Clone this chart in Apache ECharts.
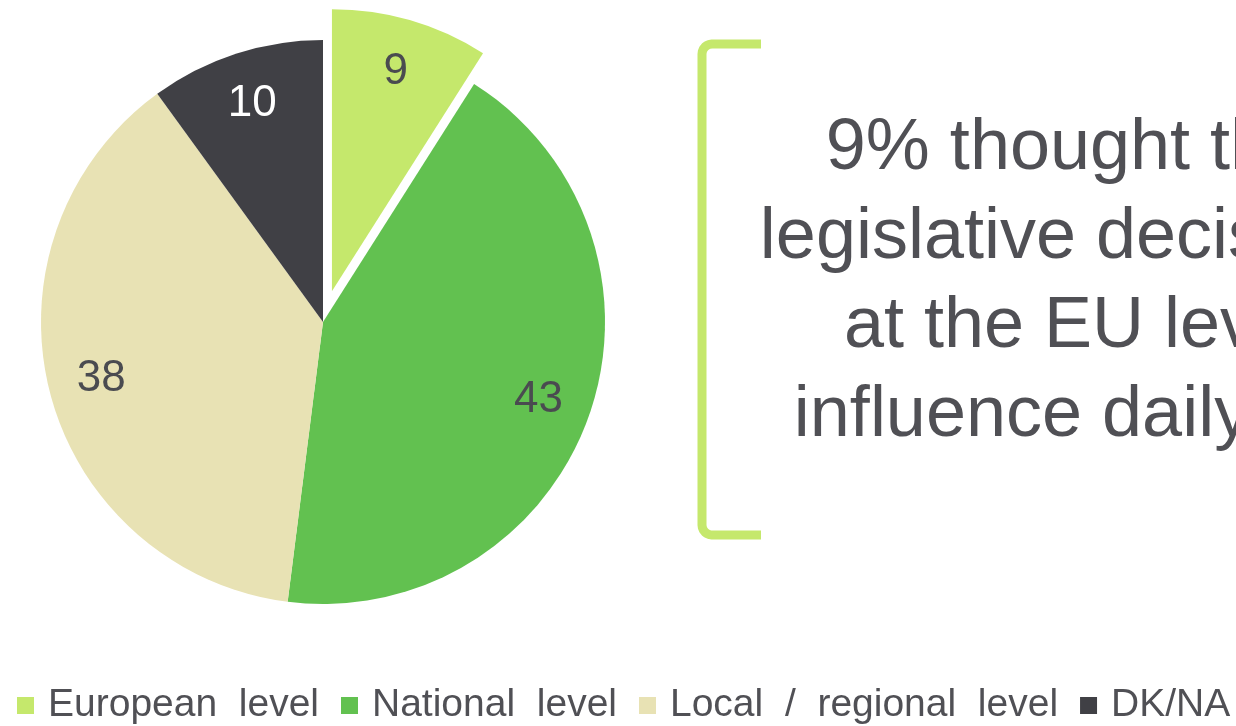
<!DOCTYPE html>
<html>
<head>
<meta charset="utf-8">
<script src="https://cdn.jsdelivr.net/npm/echarts@6/dist/echarts.min.js"></script>
<style>
  html, body { margin: 0; padding: 0; background: #fff; }
  #chart { width: 1236px; height: 726px; }
</style>
</head>
<body>
<div id="chart"></div>
<script>
// data
const levels = ['European level', 'National level', 'Local / regional level', 'DK/NA']
const shares = [9, 43, 38, 10]
const calloutLines = ['9% thought that', 'legislative decisions', 'at the EU level', 'influence daily life']

// styles
const sliceColors = ['#c5e86c', '#62c150', '#e8e2b4', '#404045']
const labelColors = ['#4a4b50', '#4a4b50', '#4a4b50', '#ffffff']
const textGrey = '#505055'
const fontName = '"Liberation Sans", Arial, sans-serif'

const chart = echarts.init(document.getElementById('chart'))

const pieData = levels.map((name, i) => ({
  name: name,
  value: shares[i],
  selected: i === 0,
  itemStyle: { color: sliceColors[i] }
}))

const labelData = levels.map((name, i) => ({
  name: name,
  value: shares[i],
  selected: i === 0,
  label: { color: labelColors[i] }
}))

// bracket on the left of the callout, rounded corners
function bracketPoints(x, top, bottom, right, r) {
  const pts = [[right, top]]
  for (let k = 0; k <= 6; k++) {
    const a = Math.PI / 2 * k / 6
    pts.push([x + r - r * Math.sin(a), top + r - r * Math.cos(a)])
  }
  for (let k = 0; k <= 6; k++) {
    const a = Math.PI / 2 * k / 6
    pts.push([x + r - r * Math.cos(a), bottom - r + r * Math.sin(a)])
  }
  pts.push([right, bottom])
  return pts
}

chart.setOption({
  animation: false,
  legend: {
    left: 12,
    bottom: -4,
    itemWidth: 17,
    itemHeight: 17,
    itemGap: 22,
    icon: 'rect',
    selectedMode: false,
    data: levels,
    formatter: name => name.replace(/ /g, '  '),
    textStyle: {
      fontFamily: fontName,
      fontSize: 39,
      color: textGrey,
      padding: [0, 0, 0, 9]
    }
  },
  series: [
    {
      // the slices
      type: 'pie',
      center: [323, 322],
      radius: 282,
      startAngle: 90,
      selectedMode: 'single',
      selectedOffset: 32,
      silent: true,
      label: { show: false },
      labelLine: { show: false },
      emphasis: { disabled: true },
      itemStyle: { borderWidth: 0 },
      data: pieData
    },
    {
      // invisible ring only used to place the value labels further out
      type: 'pie',
      center: [323, 322],
      radius: [170, 282],
      startAngle: 90,
      selectedMode: 'single',
      selectedOffset: 32,
      silent: true,
      itemStyle: { color: 'rgba(0,0,0,0)' },
      emphasis: { disabled: true },
      labelLine: { show: false },
      label: {
        show: true,
        position: 'inside',
        formatter: '{c}',
        fontFamily: fontName,
        fontSize: 44
      },
      data: labelData
    }
  ],
  graphic: [
    {
      type: 'polyline',
      shape: { points: bracketPoints(702, 44, 535, 761, 10) },
      style: { fill: null, stroke: '#c5e86c', lineWidth: 9, lineJoin: 'round' }
    },
    {
      type: 'text',
      x: 1078,
      y: 105,
      style: {
        text: calloutLines.join('\n'),
        fontFamily: fontName,
        fontSize: 72,
        lineHeight: 89,
        fill: textGrey,
        align: 'center',
        verticalAlign: 'top'
      }
    }
  ]
})
</script>
</body>
</html>
